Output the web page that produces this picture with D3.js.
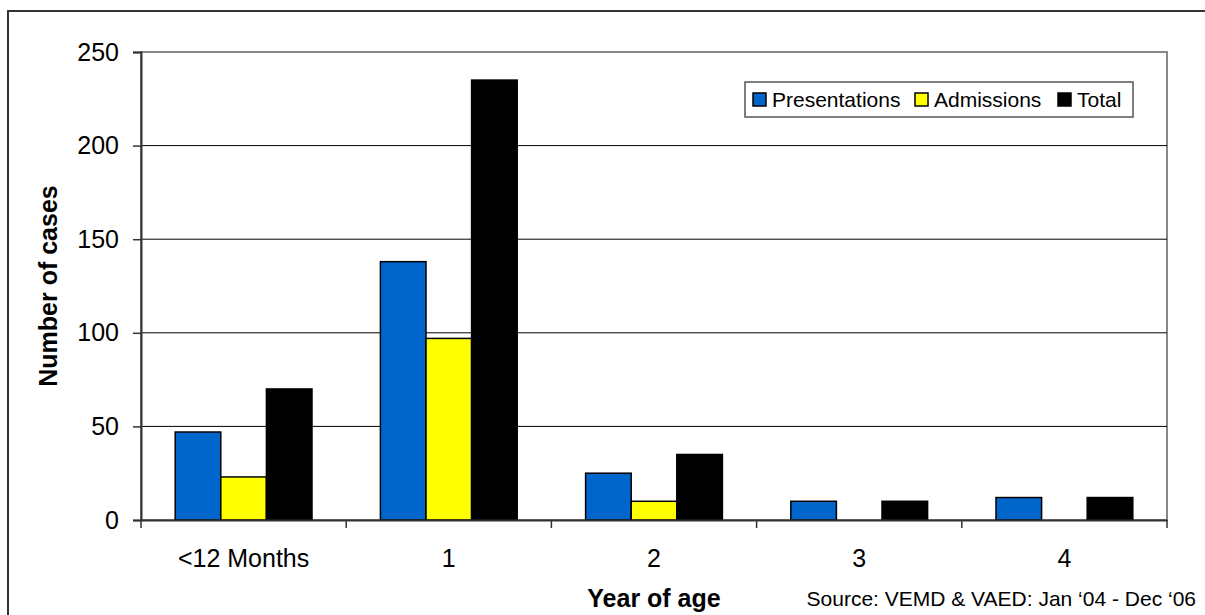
<!DOCTYPE html>
<html><head><meta charset="utf-8">
<script src="https://cdn.jsdelivr.net/npm/d3@7"></script>
<style>body{margin:0;background:#fff;} svg{display:block;font-family:"Liberation Sans",Arial,sans-serif;}</style>
</head><body>
<svg id="chart" width="1205" height="615"></svg>
<script>
const categories = ["<12 Months", "1", "2", "3", "4"];
const seriesNames = ["Presentations", "Admissions", "Total"];
const presentations = [47, 138, 25, 10, 12];
const admissions = [23, 97, 10, 0, 0];
const totals = [70, 235, 35, 10, 12];
const yTicks = [0, 50, 100, 150, 200, 250];
const colors = ["#0066CC", "#FFFF00", "#000000"];

const svg = d3.select("#chart");
const W = 1205, H = 615;
const m = {left: 141, right: 1167, top: 52, bottom: 520};
const FONT = "Liberation Sans, Arial, sans-serif";

// outer frame
svg.append("rect").attr("x", 8).attr("y", 11).attr("width", W + 10).attr("height", H + 10)
  .attr("fill", "none").attr("stroke", "#333").attr("stroke-width", 2);

const x = d3.scaleBand().domain(categories).range([m.left, m.right]);
const x1 = d3.scaleBand().domain(seriesNames).range([0, x.bandwidth()]).paddingOuter(0.75).paddingInner(0);
const y = d3.scaleLinear().domain([0, 250]).range([m.bottom, m.top]);

// plot border
svg.append("rect").attr("x", m.left).attr("y", m.top).attr("width", m.right - m.left).attr("height", m.bottom - m.top)
  .attr("fill", "none").attr("stroke", "#888").attr("stroke-width", 2);

// gridlines
svg.append("g").selectAll("line").data(yTicks.filter(d => d > 0 && d < 250)).join("line")
  .attr("x1", m.left).attr("x2", m.right).attr("y1", d => y(d)).attr("y2", d => y(d))
  .attr("stroke", "#000").attr("stroke-width", 1);

// bars
const data = categories.map((c, i) => ({c, vals: [presentations[i], admissions[i], totals[i]]}));
const g = svg.append("g").selectAll("g").data(data).join("g").attr("transform", d => `translate(${x(d.c)},0)`);
g.selectAll("rect").data(d => d.vals.map((v, j) => ({v, s: seriesNames[j], j}))).join("rect")
  .filter(d => d.v > 0)
  .attr("x", d => x1(d.s)).attr("width", x1.bandwidth())
  .attr("y", d => y(d.v)).attr("height", d => y(0) - y(d.v))
  .attr("fill", d => colors[d.j]).attr("stroke", "#000").attr("stroke-width", 1.5);

// y axis
const yAxis = d3.axisLeft(y).tickValues(yTicks).tickSize(8).tickPadding(14);
const ya = svg.append("g").attr("transform", `translate(${m.left},0)`).call(yAxis);
ya.select(".domain").attr("stroke", "#333").attr("stroke-width", 2);
ya.selectAll(".tick line").attr("stroke", "#333").attr("stroke-width", 1.5);
ya.selectAll("text").attr("font-size", 25).attr("fill", "#000").attr("font-family", FONT);

// x axis
const xAxis = d3.axisBottom(x).tickSize(0).tickPadding(29);
const xa = svg.append("g").attr("transform", `translate(0,${m.bottom})`).call(xAxis);
xa.select(".domain").attr("stroke", "#333").attr("stroke-width", 2);
xa.selectAll("text").attr("font-size", 25).attr("fill", "#000").attr("font-family", FONT);
// category separator ticks
const bounds = categories.map(c => x(c)).concat([m.right]);
xa.append("g").selectAll("line").data(bounds).join("line")
  .attr("x1", d => d).attr("x2", d => d).attr("y1", 0).attr("y2", 8).attr("stroke", "#333").attr("stroke-width", 1.5);

// axis titles
svg.append("text").attr("transform", `translate(57,${(m.top + m.bottom) / 2}) rotate(-90)`)
  .attr("text-anchor", "middle").attr("font-size", 25).attr("font-weight", "bold").text("Number of cases");
svg.append("text").attr("x", (m.left + m.right) / 2).attr("y", 607).attr("text-anchor", "middle")
  .attr("font-size", 25).attr("font-weight", "bold").text("Year of age");
svg.append("text").attr("x", 1196).attr("y", 606).attr("text-anchor", "end")
  .attr("font-size", 21).text("Source: VEMD & VAED: Jan \u201804 - Dec \u201806");

// legend
const lg = svg.append("g").attr("transform", "translate(745,82)");
lg.append("rect").attr("width", 388).attr("height", 35).attr("fill", "#fff").attr("stroke", "#555").attr("stroke-width", 1.5);
const items = [{s: seriesNames[0], x: 8}, {s: seriesNames[1], x: 170}, {s: seriesNames[2], x: 313}];
const li = lg.selectAll("g.li").data(items).join("g").attr("class", "li").attr("transform", d => `translate(${d.x},11)`);
li.append("rect").attr("width", 13).attr("height", 13).attr("fill", (d, i) => colors[i]).attr("stroke", "#000").attr("stroke-width", 1.5);
li.append("text").attr("x", 19).attr("y", 14).attr("font-size", 21).text(d => d.s);
</script>
</body></html>
